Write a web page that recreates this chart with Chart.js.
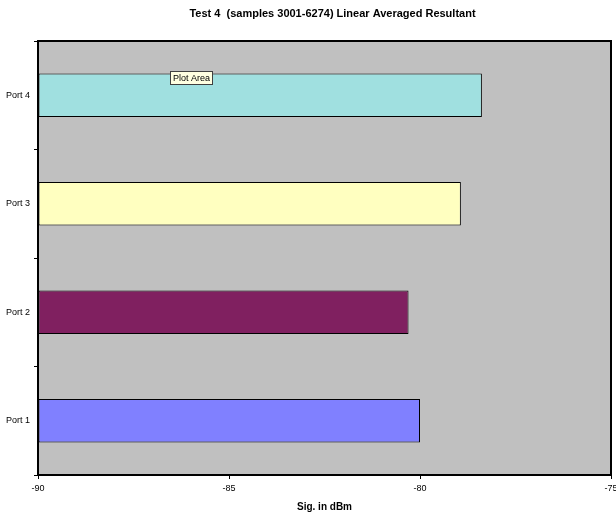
<!DOCTYPE html>
<html>
<head>
<meta charset="utf-8">
<script src="https://cdn.jsdelivr.net/npm/chart.js@4/dist/chart.umd.min.js"></script>
<style>
  html, body { margin: 0; padding: 0; background: #ffffff; }
  #wrap { width: 616px; height: 516px; }
</style>
</head>
<body>
<div id="wrap"><canvas id="c" width="616" height="516"></canvas></div>
<script>
// Averaged resultant signal per port (dBm)
const ports = ['Port 1', 'Port 2', 'Port 3', 'Port 4'];
const signalDbm = [-80.0, -80.3, -78.93, -78.38];
const barColors = ['#8080FF', '#802060', '#FFFFC0', '#A0E0E0'];
const xTicks = [-90, -85, -80, -75];

const titleText = 'Test 4  (samples 3001-6274) Linear Averaged Resultant';
const xTitleText = 'Sig. in dBm';
const hintText = 'Plot Area';

const FONT = '"Liberation Sans", Arial, sans-serif';

// Grey plot background, black frame, chart title and the hover hint box
const frame = {
  id: 'frame',
  beforeDatasetsDraw(chart) {
    const { ctx, chartArea: a } = chart;
    ctx.save();
    ctx.fillStyle = '#C0C0C0';
    ctx.fillRect(a.left, a.top, a.right - a.left, a.bottom - a.top);
    ctx.restore();
  },
  afterDraw(chart) {
    const { ctx, chartArea: a } = chart;
    ctx.save();
    ctx.strokeStyle = '#000000';
    ctx.lineWidth = 2;
    ctx.strokeRect(a.left, a.top, a.right - a.left, a.bottom - a.top);

    ctx.fillStyle = '#000000';
    ctx.font = 'bold 11px ' + FONT;
    ctx.textAlign = 'center';
    ctx.textBaseline = 'middle';
    ctx.fillText(titleText, (a.left + a.right) / 2 + 8, 14);

    // hint box
    ctx.font = '9px ' + FONT;
    const hx = a.left + 132, hy = a.top + 30;
    const w = Math.round(ctx.measureText(hintText).width) + 6, h = 14;
    ctx.fillStyle = '#FFFFE1';
    ctx.fillRect(hx, hy, w, h);
    ctx.strokeStyle = '#404040';
    ctx.lineWidth = 1;
    ctx.strokeRect(hx + 0.5, hy + 0.5, w - 1, h - 1);
    ctx.fillStyle = '#000000';
    ctx.textAlign = 'left';
    ctx.fillText(hintText, hx + 3, hy + h / 2 + 0.5);
    ctx.restore();
  }
};

new Chart(document.getElementById('c'), {
  type: 'bar',
  data: {
    labels: ports,
    datasets: [{
      data: signalDbm,
      base: xTicks[0],
      backgroundColor: barColors,
      borderColor: '#000000',
      borderWidth: 1,
      borderSkipped: false,
      categoryPercentage: 1.0,
      barPercentage: 0.4
    }]
  },
  options: {
    indexAxis: 'y',
    responsive: false,
    animation: false,
    events: [],
    layout: { padding: { top: 41, right: 5, bottom: 0, left: 0 } },
    plugins: {
      legend: { display: false },
      title: { display: false },
      tooltip: { enabled: false }
    },
    scales: {
      x: {
        type: 'linear',
        min: xTicks[0],
        max: xTicks[xTicks.length - 1],
        afterBuildTicks(scale) { scale.ticks = xTicks.map(v => ({ value: v })); },
        afterFit(scale) {
          scale.height = 41;
          scale.paddingLeft = 0;
          scale.paddingRight = 0;
        },
        border: { display: false },
        grid: { drawOnChartArea: false, drawTicks: true, tickLength: 4, color: '#000000', lineWidth: 1 },
        ticks: { color: '#000000', font: { family: FONT, size: 9 }, padding: 4, maxRotation: 0 },
        title: {
          display: true,
          text: xTitleText,
          color: '#000000',
          font: { family: FONT, size: 10, weight: 'bold' },
          padding: { top: 0, bottom: 3 }
        }
      },
      y: {
        type: 'category',
        reverse: true,
        offset: true,
        afterFit(scale) {
          scale.width = 38;
          scale.paddingTop = 0;
          scale.paddingBottom = 0;
        },
        border: { display: false },
        grid: { offset: true, drawOnChartArea: false, drawTicks: true, tickLength: 4, color: '#000000', lineWidth: 1 },
        ticks: { color: '#000000', font: { family: FONT, size: 9 }, padding: 4 }
      }
    }
  },
  plugins: [frame]
});
</script>
</body>
</html>
